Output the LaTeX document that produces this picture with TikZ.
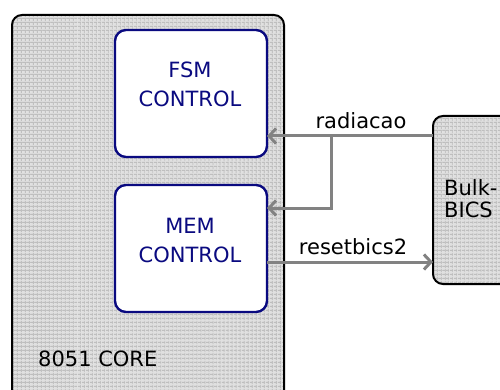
\documentclass[tikz,border=0pt]{standalone}
\usepackage{fontspec}
\setmainfont{DejaVu Sans}
\usetikzlibrary{arrows.meta,patterns.meta}
\definecolor{panelbase}{HTML}{E0E0E0}
\definecolor{panelline}{HTML}{BEBEBE}
\definecolor{navy}{HTML}{0A0A80}
\definecolor{wire}{HTML}{828282}
\begin{document}
\begin{tikzpicture}[x=1pt,y=-1pt,
  corebox/.style={draw=black, line width=2pt, rounded corners=10pt,
    preaction={fill=panelbase},
    preaction={pattern={Lines[distance=4pt,angle=0,line width=1.1pt]}, pattern color=panelline},
    preaction={pattern={Lines[distance=4pt,angle=90,line width=1.1pt]}, pattern color=panelline},
    inner sep=0pt, outer sep=0pt},
  unitbox/.style={draw=navy, line width=2.4pt, fill=white, rounded corners=11pt,
    inner sep=0pt, outer sep=0pt, minimum width=152pt, minimum height=127pt},
  unittext/.style={text=navy, font=\fontsize{21}{25}\selectfont, anchor=base, inner sep=0pt},
  plaintext/.style={text=black, font=\fontsize{21}{25}\selectfont, inner sep=0pt},
  sig/.style={draw=wire, line width=3pt, -{Straight Barb[length=7pt,width=15pt]}},
  wirelabel/.style={text=black, font=\fontsize{21}{25}\selectfont, anchor=base, inner sep=0pt}]
\useasboundingbox (0,0) rectangle (500,390);
\clip (0,0) rectangle (500,390);

% processor core and its two control units
\node[corebox, minimum width=272pt, minimum height=395pt] (core) at (148,212.5) {};
\node[unitbox] (fsm) at (191,93.5) {};
\node[unitbox] (mem) at (191,248.5) {};
\node[unittext] (fsmA) at (190,78) {FSM};
\node[unittext] (fsmB) at (190,107) {CONTROL};
\node[unittext] (memA) at (190,233) {MEM};
\node[unittext] (memB) at (190,262) {CONTROL};
\node[plaintext, anchor=base west] (corelabel) at (38,366) {8051 CORE};

% bulk built-in current sensor
\node[corebox, minimum width=107pt, minimum height=168pt] (bulk) at (486.5,200) {};
\node[plaintext, anchor=base west] (bulkA) at (444,195) {Bulk-};
\node[plaintext, anchor=base west] (bulkB) at (444,217) {BICS};

% signals
\coordinate (split) at (331,136);
\coordinate (memin) at (331,208);
\coordinate (rstout) at (300,262);
\draw[sig] (bulk.west |- split) -- (fsm.east |- split);
\draw[sig] (split) -- (memin) -- (mem.east |- memin);
\draw[sig] (mem.east |- rstout) -- (bulk.west |- rstout);
\node[wirelabel] (lblrad) at (361,129) {radiacao};
\node[wirelabel] (lblrst) at (353,254) {resetbics2};
\end{tikzpicture}
\end{document}
